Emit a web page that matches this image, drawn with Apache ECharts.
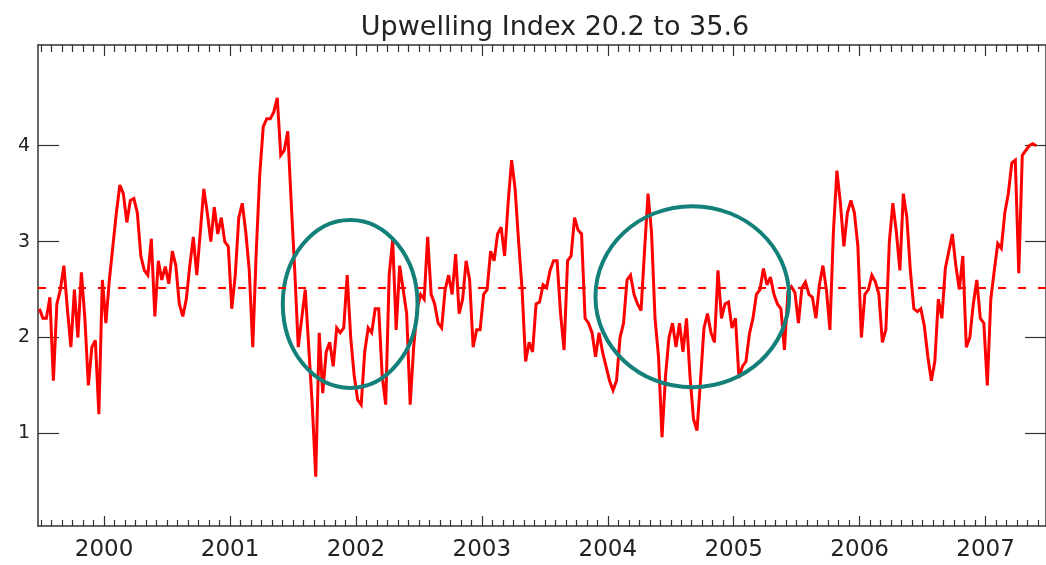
<!DOCTYPE html>
<html>
<head>
<meta charset="utf-8">
<title>Upwelling Index 20.2 to 35.6</title>
<script src="https://cdn.jsdelivr.net/npm/echarts@6/dist/echarts.min.js"></script>
<style>
  html, body { margin: 0; padding: 0; background: #ffffff; }
  #chart { width: 1046px; height: 565px; }
</style>
</head>
<body>
<div id="chart"></div>
<script>
// Upwelling index, 10-day (dekad) values: 36 samples per calendar year.
// Sample k of a year sits at year + (k + 0.5) / 36.
const SAMPLES_PER_YEAR = 36;
const FIRST_SAMPLE_1999 = 17;   // record starts in late June 1999

const y1999 = [2.3, 2.2, 2.2, 2.42, 1.55, 2.35, 2.5, 2.75, 2.3, 1.9, 2.5, 2.0, 2.68, 2.2, 1.5, 1.9, 1.97, 1.2, 2.6];
const y2000 = [2.15, 2.6, 2.95, 3.3, 3.59, 3.5, 3.2, 3.43, 3.45, 3.3, 2.85, 2.7, 2.65, 3.03, 2.22, 2.8, 2.6, 2.74,
               2.56, 2.9, 2.75, 2.35, 2.22, 2.4, 2.75, 3.05, 2.65, 3.1, 3.55, 3.3, 3.0, 3.36, 3.08, 3.25, 3.0, 2.95];
const y2001 = [2.3, 2.65, 3.25, 3.4, 3.1, 2.7, 1.9, 2.9, 3.7, 4.2, 4.28, 4.28, 4.35, 4.5, 3.9, 3.95, 4.15, 3.4,
               2.7, 1.9, 2.2, 2.5, 1.9, 1.3, 0.55, 2.05, 1.42, 1.85, 1.95, 1.7, 2.1, 2.05, 2.1, 2.65, 2.0, 1.6];
const y2002 = [1.35, 1.3, 1.85, 2.1, 2.05, 2.3, 2.3, 1.6, 1.3, 2.65, 3.02, 2.08, 2.75, 2.5, 2.25, 1.3, 1.9, 2.3,
               2.45, 2.4, 3.05, 2.45, 2.35, 2.15, 2.1, 2.5, 2.65, 2.45, 2.87, 2.25, 2.4, 2.8, 2.6, 1.9, 2.08, 2.08];
const y2003 = [2.45, 2.5, 2.9, 2.8, 3.08, 3.15, 2.85, 3.4, 3.85, 3.55, 3.0, 2.5, 1.75, 1.95, 1.85, 2.35, 2.37, 2.55,
               2.52, 2.7, 2.8, 2.8, 2.25, 1.87, 2.8, 2.85, 3.25, 3.12, 3.08, 2.2, 2.15, 2.05, 1.8, 2.05, 1.85, 1.7];
const y2004 = [1.55, 1.45, 1.55, 2.0, 2.15, 2.6, 2.65, 2.45, 2.35, 2.28, 2.9, 3.5, 3.1, 2.2, 1.8, 0.96, 1.6, 2.0,
               2.15, 1.9, 2.15, 1.85, 2.2, 1.6, 1.15, 1.03, 1.55, 2.1, 2.25, 2.05, 1.95, 2.7, 2.2, 2.35, 2.37, 2.1];
const y2005 = [2.2, 1.58, 1.7, 1.75, 2.04, 2.2, 2.45, 2.5, 2.72, 2.55, 2.63, 2.45, 2.35, 2.3, 1.87, 2.48, 2.53, 2.47,
               2.15, 2.52, 2.58, 2.45, 2.42, 2.2, 2.55, 2.75, 2.5, 2.08, 3.1, 3.74, 3.4, 2.95, 3.3, 3.43, 3.3, 2.95];
const y2006 = [2.0, 2.45, 2.5, 2.65, 2.58, 2.45, 1.95, 2.08, 3.0, 3.4, 3.1, 2.7, 3.5, 3.25, 2.7, 2.3, 2.27, 2.3,
               2.12, 1.8, 1.55, 1.75, 2.4, 2.2, 2.72, 2.9, 3.08, 2.75, 2.5, 2.85, 1.9, 2.0, 2.35, 2.6, 2.2, 2.15];
const y2007 = [1.5, 2.4, 2.7, 2.98, 2.93, 3.3, 3.5, 3.82, 3.85, 2.67, 3.9, 3.95, 4.0, 4.02, 4.0];

const yearBlocks = [
  [1999, FIRST_SAMPLE_1999, y1999],
  [2000, 0, y2000], [2001, 0, y2001], [2002, 0, y2002], [2003, 0, y2003],
  [2004, 0, y2004], [2005, 0, y2005], [2006, 0, y2006], [2007, 0, y2007]
];

// Long-term mean of the index (dashed reference line)
const MEAN_INDEX = 2.515;

// Year tick labels and y tick values
const yearTicks = [2000, 2001, 2002, 2003, 2004, 2005, 2006, 2007];
const yTicks = [1, 2, 3, 4];

// Highlighted low-upwelling periods: [centre year, centre value, half-width (yr), half-height]
const highlights = [
  [2001.954, 2.35, 0.535, 0.876],
  [2004.671, 2.426, 0.769, 0.944]
];

const X_MIN = 1999.475, X_MAX = 2007.48;
const Y_MIN = 0.035, Y_MAX = 5.05;

// Build [time, value] pairs
const seriesData = [];
yearBlocks.forEach(([year, k0, vals]) => {
  vals.forEach((v, i) => {
    seriesData.push([year + (k0 + i + 0.5) / SAMPLES_PER_YEAR, v]);
  });
});

// Monthly minor tick positions
const monthTicks = [];
for (let yr = 1999; yr <= 2007; yr++) {
  for (let m = 1; m < 12; m++) {
    const t = yr + m / 12;
    if (t > X_MIN && t < X_MAX) monthTicks.push(t);
  }
}

const FONT = 'DejaVu Sans';
const INK = '#222222';
const AXIS = '#333333';

function xAxisDef(position, ticks, len, withLine, withLabels) {
  return {
    type: 'value', position: position, min: X_MIN, max: X_MAX,
    splitLine: { show: false },
    axisLine: { show: withLine, onZero: false, lineStyle: { color: AXIS, width: 1.5 } },
    axisTick: { show: true, inside: true, length: len, customValues: ticks,
                lineStyle: { color: AXIS, width: 1.2 } },
    axisLabel: withLabels ? {
      show: true, customValues: yearTicks, margin: 13,
      formatter: v => String(Math.round(v)),
      fontFamily: FONT, fontSize: 23, color: INK
    } : { show: false }
  };
}

function yAxisDef(position, withLabels) {
  return {
    type: 'value', position: position, min: Y_MIN, max: Y_MAX,
    splitLine: { show: false },
    axisLine: { show: true, onZero: false, lineStyle: { color: AXIS, width: 1.5 } },
    axisTick: { show: true, inside: true, length: 21, customValues: yTicks,
                lineStyle: { color: AXIS, width: 1.2 } },
    axisLabel: withLabels ? {
      show: true, customValues: yTicks, margin: 8,
      fontFamily: FONT, fontSize: 19, color: INK
    } : { show: false }
  };
}

const chart = echarts.init(document.getElementById('chart'), null, { renderer: 'canvas' });

chart.setOption({
  backgroundColor: '#ffffff',
  animation: false,
  title: {
    text: 'Upwelling Index 20.2 to 35.6',
    left: 550, top: 9, textAlign: 'center',
    textStyle: { fontFamily: FONT, fontSize: 27, fontWeight: 'normal', color: INK }
  },
  grid: { left: 38, top: 45, width: 1025, height: 481, containLabel: false },
  xAxis: [
    xAxisDef('bottom', yearTicks, 10, true, true),
    xAxisDef('bottom', monthTicks, 6, false, false),
    xAxisDef('top', yearTicks, 11, true, false),
    xAxisDef('top', monthTicks, 7, false, false)
  ],
  yAxis: [
    yAxisDef('left', true),
    yAxisDef('right', false)
  ],
  series: [
    {
      name: 'Upwelling index',
      type: 'line',
      xAxisIndex: 0, yAxisIndex: 0,
      data: seriesData,
      showSymbol: false,
      symbol: 'none',
      lineStyle: { color: '#ff0000', width: 3, join: 'miter', miterLimit: 3 },
      markLine: {
        silent: true,
        symbol: ['none', 'none'],
        label: { show: false },
        lineStyle: { color: '#ff0000', type: [8, 12], width: 1.8 },
        data: [{ yAxis: MEAN_INDEX }]
      },
      z: 2
    },
    {
      name: 'Highlighted periods',
      type: 'custom',
      xAxisIndex: 0, yAxisIndex: 0,
      data: highlights,
      clip: false,
      renderItem: function (params, api) {
        const c = api.coord([api.value(0), api.value(1)]);
        const s = api.size([api.value(2), api.value(3)]);
        return {
          type: 'ellipse',
          shape: { cx: c[0], cy: c[1], rx: s[0], ry: s[1] },
          style: { fill: 'none', stroke: '#138079', lineWidth: 4 }
        };
      },
      z: 3
    }
  ]
});
</script>
</body>
</html>
